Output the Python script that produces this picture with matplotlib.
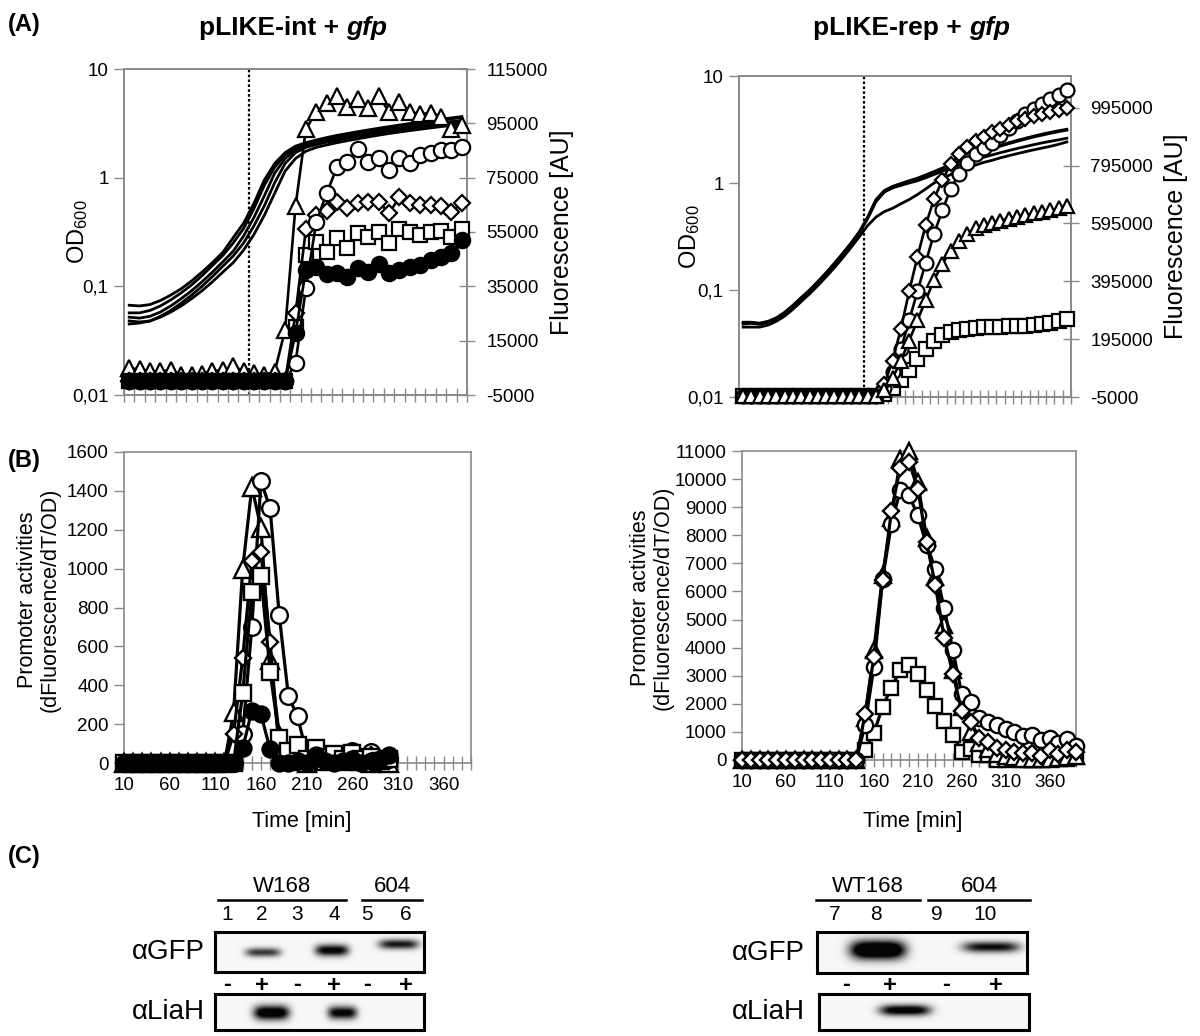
import numpy as np
import matplotlib
matplotlib.use('Agg')
import matplotlib.pyplot as plt
from matplotlib.ticker import NullLocator

plt.rcParams['font.family'] = ['Liberation Sans', 'DejaVu Sans']
plt.rcParams['mathtext.fontset'] = 'custom'
plt.rcParams['mathtext.rm'] = 'Liberation Sans'

# ---------------- DATA ----------------
# Panel A left (pLIKE-int + gfp): 33 time points, OD600 (5 cultures) and fluorescence
TL_OD1 = [0.067,0.066,0.068,0.074,0.083,0.095,0.112,0.135,0.165,0.205,0.28,0.38,0.58,0.95,1.35,1.70,1.95,2.10,2.22,2.34,2.45,2.55,2.65,2.75,2.85,2.95,3.05,3.15,3.25,3.35,3.45,3.55,3.65]
TL_OD2 = [0.057,0.057,0.060,0.066,0.075,0.087,0.103,0.125,0.155,0.192,0.25,0.34,0.52,0.85,1.25,1.62,1.88,2.05,2.17,2.28,2.38,2.48,2.58,2.68,2.78,2.88,2.98,3.08,3.18,3.28,3.38,3.48,3.58]
TL_OD3 = [0.052,0.051,0.053,0.058,0.066,0.077,0.091,0.110,0.135,0.168,0.21,0.29,0.43,0.68,1.10,1.50,1.80,1.98,2.10,2.20,2.30,2.39,2.48,2.57,2.66,2.75,2.84,2.93,3.02,3.11,3.20,3.28,3.36]
TL_OD4 = [0.048,0.047,0.048,0.053,0.060,0.070,0.083,0.100,0.123,0.153,0.19,0.25,0.36,0.55,0.90,1.35,1.70,1.90,2.02,2.12,2.21,2.30,2.39,2.48,2.57,2.66,2.75,2.84,2.93,3.01,3.09,3.16,3.22]
TL_OD5 = [0.045,0.046,0.048,0.052,0.058,0.066,0.077,0.091,0.110,0.135,0.165,0.215,0.30,0.45,0.72,1.15,1.50,1.75,1.90,2.00,2.10,2.19,2.28,2.37,2.46,2.55,2.63,2.71,2.79,2.87,2.95,3.02,3.08]
TL_TRI = [4800,4500,3700,3700,4200,2300,2300,2900,3700,4200,5500,3900,3200,2300,3600,19000,64500,92800,99300,102400,105000,101000,103800,100500,105000,99300,103000,99300,98300,98900,97500,92800,94400]
TL_CIR = [0,0,0,0,0,0,0,0,0,0,0,0,0,0,0,0,6700,34300,58800,69200,79000,80900,85400,80900,82100,77800,82100,80500,83300,84000,85200,85200,86200]
TL_DIA = [0,0,0,0,0,0,0,0,0,0,0,0,0,0,0,0,25000,56000,61300,62900,66200,63700,65500,66200,66200,61900,67800,65500,64900,64900,64600,62500,65500]
TL_SQ  = [0,0,0,0,0,0,0,0,0,0,0,0,0,0,0,0,20000,46500,51400,47800,52700,49000,54500,53300,55100,50800,56000,54900,53900,54900,55500,53300,56000]
TL_BLK = [0,0,0,0,0,0,0,0,0,0,0,0,0,0,0,0,17700,41000,42200,39500,39800,38600,41600,40400,43200,39800,41000,42200,42800,44700,45900,47400,52000]
TL_FL_TICKS = [-5000, 15000, 35000, 55000, 75000, 95000, 115000]

# Panel A right (pLIKE-rep + gfp): 40 time points
TR_OD1 = [0.050,0.050,0.049,0.051,0.055,0.062,0.072,0.085,0.100,0.120,0.145,0.178,0.220,0.275,0.350,0.480,0.700,0.850,0.930,0.990,1.050,1.110,1.190,1.280,1.380,1.490,1.610,1.740,1.870,2.000,2.120,2.250,2.380,2.500,2.620,2.740,2.860,2.970,3.080,3.180]
TR_OD2 = [0.048,0.049,0.048,0.050,0.054,0.060,0.070,0.083,0.098,0.118,0.143,0.175,0.216,0.270,0.345,0.465,0.670,0.820,0.910,0.970,1.030,1.090,1.170,1.260,1.360,1.470,1.590,1.710,1.840,1.960,2.080,2.210,2.330,2.450,2.570,2.690,2.800,2.910,3.020,3.120]
TR_OD3 = [0.049,0.049,0.048,0.050,0.054,0.061,0.071,0.084,0.099,0.119,0.144,0.176,0.218,0.272,0.347,0.470,0.680,0.830,0.900,0.950,1.000,1.050,1.120,1.200,1.290,1.380,1.470,1.560,1.650,1.740,1.830,1.920,2.010,2.100,2.190,2.280,2.370,2.450,2.530,2.620]
TR_OD4 = [0.045,0.045,0.045,0.047,0.051,0.057,0.066,0.078,0.092,0.110,0.133,0.162,0.200,0.250,0.315,0.400,0.480,0.540,0.580,0.640,0.700,0.780,0.880,1.000,1.100,1.200,1.290,1.380,1.470,1.560,1.630,1.720,1.800,1.880,1.960,2.040,2.120,2.200,2.300,2.420]
TR_DIA = [0,0,0,0,0,0,0,0,0,0,0,0,0,0,0,0,0,40000,120000,230000,360000,480000,590000,680000,745000,800000,835000,860000,880000,895000,910000,922000,935000,948000,957000,965000,972000,980000,988000,995000]
TR_CIR = [0,0,0,0,0,0,0,0,0,0,0,0,0,0,0,0,0,25000,80000,160000,260000,360000,460000,560000,640000,715000,765000,805000,835000,855000,875000,900000,925000,950000,972000,992000,1008000,1025000,1040000,1058000]
TR_TRI = [0,0,0,0,0,0,0,0,0,0,0,0,0,0,0,0,0,20000,60000,120000,190000,260000,330000,400000,455000,500000,535000,560000,578000,590000,598000,605000,612000,618000,624000,630000,636000,641000,647000,655000]
TR_SQ  = [0,0,0,0,0,0,0,0,0,0,0,0,0,0,0,0,0,5000,25000,55000,90000,125000,160000,190000,208000,220000,227000,231000,234000,236000,237000,238000,239000,240000,242000,244000,247000,251000,257000,265000]
TR_FL_TICKS = [-5000, 195000, 395000, 595000, 795000, 995000]

# Panel B left: promoter activities, time 10..300 min
BL_TIME = [10,20,30,40,50,60,70,80,90,100,110,120,130,140,150,160,170,180,190,200,210,220,230,240,250,260,270,280,290,300]
BL_TRI = [0,0,0,0,0,0,0,0,0,0,0,0,260,1000,1420,1210,530,145,30,10,0,20,10,30,10,20,10,0,10,0]
BL_CIR = [0,0,0,0,0,0,0,0,0,0,0,0,0,150,700,1450,1310,760,345,240,50,30,20,10,30,60,30,55,20,20]
BL_DIA = [0,0,0,0,0,0,0,0,0,0,0,0,150,540,1040,1085,625,60,20,30,10,40,20,30,20,50,20,40,10,10]
BL_SQ  = [0,0,0,0,0,0,0,0,0,0,0,0,0,360,880,960,470,130,60,95,20,75,30,45,20,50,20,30,10,20]
BL_BLK = [0,0,0,0,0,0,0,0,0,0,0,0,0,75,270,250,70,0,0,10,0,40,10,0,10,20,0,10,20,40]

# Panel B right: time 10..390 min
BR_TIME = [10,20,30,40,50,60,70,80,90,100,110,120,130,140,150,160,170,180,190,200,210,220,230,240,250,260,270,280,290,300,310,320,330,340,350,360,370,380,390]
BR_DIA = [0,0,0,0,0,0,0,0,0,0,0,0,0,0,1640,3650,6420,8870,10400,10600,9660,7760,6220,4360,3060,1750,1360,800,650,420,360,300,250,250,150,350,200,350,280]
BR_CIR = [0,0,0,0,0,0,0,0,0,0,0,0,0,0,1250,3300,6460,8400,9600,9420,8710,7650,6800,5400,3900,2350,2050,1500,1350,1250,1100,1000,850,900,700,800,600,750,500]
BR_TRI = [0,0,0,0,0,0,0,0,0,0,0,0,0,0,1500,3900,6600,8600,10700,11000,9900,7900,6500,4800,3200,1900,1000,600,400,200,150,100,50,30,20,50,80,100,150]
BR_SQ  = [0,0,0,0,0,0,0,0,0,0,0,0,0,0,360,950,1900,2580,3200,3380,3060,2490,1920,1400,890,300,380,180,180,0,0,50,0,0,0,50,30,50,100]

X_LABEL_TIMES = [10, 60, 110, 160, 210, 260, 310, 360]

# Panel C: western blot bands (relative x centre, width, relative y centre, height, intensity)
LEFT_GFP_CX = [0.23, 0.56, 0.88]; LEFT_GFP_W = [0.17, 0.16, 0.19]; LEFT_GFP_CY = [0.52, 0.47, 0.32]; LEFT_GFP_H = [0.11, 0.14, 0.12]; LEFT_GFP_I = [0.8, 1.1, 0.95]
LEFT_LIAH_CX = [0.27, 0.61]; LEFT_LIAH_W = [0.17, 0.14]; LEFT_LIAH_CY = [0.52, 0.52]; LEFT_LIAH_H = [0.2, 0.18]; LEFT_LIAH_I = [1.3, 1.1]
RIGHT_GFP_CX = [0.29, 0.83]; RIGHT_GFP_W = [0.26, 0.27]; RIGHT_GFP_CY = [0.45, 0.38]; RIGHT_GFP_H = [0.22, 0.13]; RIGHT_GFP_I = [1.6, 1.0]
RIGHT_LIAH_CX = [0.41]; RIGHT_LIAH_W = [0.24]; RIGHT_LIAH_CY = [0.45]; RIGHT_LIAH_H = [0.15]; RIGHT_LIAH_I = [1.2]
LEFT_LANES = ['1', '2', '3', '4', '5', '6']
LEFT_SIGNS = ['-', '+', '-', '+', '-', '+']
RIGHT_LANES = ['7', '8', '9', '10']
RIGHT_SIGNS = ['-', '+', '-', '+']

# ---------------- FIGURE ----------------
W, H = 1200, 1036
fig = plt.figure(figsize=(W / 100, H / 100), dpi=100)
GRAY = '#8a8a8a'
TFS = 13.5


def rect(l, t, r, b):
    return [l / W, 1 - b / H, (r - l) / W, (b - t) / H]


def fx(x):
    return x / W


def fy(y):
    return 1 - y / H


def style_spines(ax):
    for s in ax.spines.values():
        s.set_color(GRAY)
        s.set_linewidth(1.2)


def top_panel(rc, ods, series, n, dotted, flim, fticks, od_x, fl_x):
    ax = fig.add_axes(rc)
    x = np.arange(n) + 0.5
    for od in ods:
        ax.plot(x, od, color='black', lw=2.0, zorder=2, solid_joinstyle='round')
    ax.set_yscale('log')
    ax.set_ylim(0.01, 10)
    ax.set_xlim(0, n)
    ax.axvline(dotted, color='black', ls=(0, (1.2, 1.0)), lw=1.6, zorder=1)
    ax.set_yticks([0.01, 0.1, 1, 10])
    ax.set_yticklabels(['0,01', '0,1', '1', '10'])
    ax.yaxis.set_minor_locator(NullLocator())
    ax.set_xticks(np.arange(0, n + 1))
    ax.set_xticklabels([])
    ax.tick_params(axis='x', direction='inout', length=10, width=1.0, color=GRAY)
    ax.tick_params(axis='y', direction='out', length=7, width=1.0, color=GRAY, labelsize=TFS, pad=4)
    style_spines(ax)
    ax2 = ax.twinx()
    for vals, mk, face, ms in series:
        ax2.plot(x, vals, color='black', lw=1.9, marker=mk, ms=ms, mfc=face, mec='black',
                 mew=1.6, clip_on=False, zorder=3)
    ax2.set_ylim(*flim)
    ax2.set_yticks(fticks)
    ax2.set_yticklabels([str(v) for v in fticks])
    ax2.tick_params(axis='y', direction='inout', length=12, width=1.0, color=GRAY, labelsize=TFS, pad=8)
    ax2.set_xlim(0, n)
    style_spines(ax2)
    yc = (1 - (rc[1] + rc[3] / 2)) * H
    fig.text(fx(od_x), fy(yc), r'$\mathregular{OD_{600}}$', rotation=90, ha='center', va='center', fontsize=17)
    fig.text(fx(fl_x), fy(yc), 'Fluorescence [AU]', rotation=90, ha='center', va='center', fontsize=18)
    return ax, ax2


n_tl = len(TL_TRI)
top_panel(rect(124, 69, 467, 395), [TL_OD1, TL_OD2, TL_OD3, TL_OD4, TL_OD5],
          [(TL_TRI, '^', 'white', 12), (TL_SQ, 's', 'white', 10.5), (TL_DIA, 'D', 'white', 8.5),
           (TL_CIR, 'o', 'white', 11), (TL_BLK, 'o', 'black', 11)],
          n_tl, 12, (-5000, 115000), TL_FL_TICKS, 78, 562)

n_tr = len(TR_TRI)
top_panel(rect(739, 76, 1071, 397), [TR_OD1, TR_OD2, TR_OD3, TR_OD4],
          [(TR_SQ, 's', 'white', 9.5), (TR_CIR, 'o', 'white', 10), (TR_DIA, 'D', 'white', 7.5),
           (TR_TRI, '^', 'white', 10)],
          n_tr, 15, (-5000, 1105000), TR_FL_TICKS, 690, 1176)


def b_panel(rc, time, series, ymax, ystep, lab_x):
    ax = fig.add_axes(rc)
    for vals, mk, face, ms in series:
        ax.plot(time, vals, color='black', lw=2.3, marker=mk, ms=ms, mfc=face, mec='black',
                mew=1.7, clip_on=False, zorder=3)
    ax.set_xlim(10, 390)
    ax.set_ylim(0, ymax)
    ticks = np.arange(10, 391, 10)
    ax.set_xticks(ticks)
    ax.set_xticklabels([str(t) if t in X_LABEL_TIMES else '' for t in ticks])
    ax.set_yticks(np.arange(0, ymax + 1, ystep))
    ax.tick_params(axis='x', direction='inout', length=10, width=1.0, color=GRAY, labelsize=TFS, pad=5)
    ax.tick_params(axis='y', direction='out', length=7, width=1.0, color=GRAY, labelsize=TFS, pad=4)
    style_spines(ax)
    top = (1 - rc[1] - rc[3]) * H
    bot = (1 - rc[1]) * H
    left = rc[0] * W
    right = (rc[0] + rc[2]) * W
    fig.text(fx(lab_x), fy((top + bot) / 2 - 8), 'Promoter activities\n(dFluorescence/dT/OD)', rotation=90,
             ha='center', va='center', fontsize=15.5, linespacing=1.1, multialignment='center')
    fig.text(fx((left + right) / 2 + 4), fy(821), 'Time [min]', ha='center', va='center', fontsize=15.5)
    return ax


b_panel(rect(124, 452, 471, 763), BL_TIME,
        [(BL_TRI, '^', 'white', 12.5), (BL_CIR, 'o', 'white', 12), (BL_DIA, 'D', 'white', 8.5),
         (BL_SQ, 's', 'white', 11), (BL_BLK, 'o', 'black', 11.5)],
        1600, 200, 39)
b_panel(rect(742, 451, 1076, 760), BR_TIME,
        [(BR_SQ, 's', 'white', 10.5), (BR_TRI, '^', 'white', 11), (BR_CIR, 'o', 'white', 11),
         (BR_DIA, 'D', 'white', 8)],
        11000, 1000, 652)

# ---------------- titles & panel letters ----------------
renderer = fig.canvas.get_renderer()


def title2(xc, y, a, b, size=19):
    t1 = fig.text(0, fy(y), a, fontsize=size, fontweight='bold', ha='left', va='center')
    t2 = fig.text(0, fy(y), b, fontsize=size, fontweight='bold', fontstyle='italic', ha='left', va='center')
    w1 = t1.get_window_extent(renderer).width
    w2 = t2.get_window_extent(renderer).width
    gap = 0.28 * size * 100 / 72
    x0 = xc - (w1 + gap + w2) / 2
    t1.set_x(fx(x0))
    t2.set_x(fx(x0 + w1 + gap))


title2(293, 28, 'pLIKE-int +', 'gfp')
title2(912, 28, 'pLIKE-rep +', 'gfp')
for lab, yy in [('(A)', 24), ('(B)', 461), ('(C)', 857)]:
    fig.text(fx(8), fy(yy), lab, fontsize=17, fontweight='bold', ha='left', va='center')


# ---------------- Panel C blots ----------------
def blot(l, t, r, b, cx, w, cy, h, inten):
    ax = fig.add_axes(rect(l, t, r, b))
    nx, ny = 420, 90
    X, Y = np.meshgrid(np.linspace(0, 1, nx), np.linspace(0, 1, ny))
    img = np.zeros((ny, nx))
    for c, ww, yy, hh, ii in zip(cx, w, cy, h, inten):
        img += ii * np.exp(-np.abs((X - c) / (ww / 2)) ** 4) * np.exp(-((Y - yy) / hh) ** 2)
    img = np.clip(img, 0, 1)
    ax.imshow(0.97 - 0.95 * img, cmap='gray', vmin=0, vmax=1, extent=(0, 1, 1, 0),
              aspect='auto', interpolation='bilinear')
    ax.set_xlim(0, 1)
    ax.set_ylim(1, 0)
    ax.set_xticks([])
    ax.set_yticks([])
    for s in ax.spines.values():
        s.set_color('black')
        s.set_linewidth(2.2)
    return ax


blot(215, 932, 424, 972, LEFT_GFP_CX, LEFT_GFP_W, LEFT_GFP_CY, LEFT_GFP_H, LEFT_GFP_I)
blot(215, 994, 424, 1030, LEFT_LIAH_CX, LEFT_LIAH_W, LEFT_LIAH_CY, LEFT_LIAH_H, LEFT_LIAH_I)
blot(817, 932, 1027, 973, RIGHT_GFP_CX, RIGHT_GFP_W, RIGHT_GFP_CY, RIGHT_GFP_H, RIGHT_GFP_I)
blot(819, 994, 1029, 1030, RIGHT_LIAH_CX, RIGHT_LIAH_W, RIGHT_LIAH_CY, RIGHT_LIAH_H, RIGHT_LIAH_I)

fig.text(fx(168), fy(952), 'αGFP', fontsize=20, ha='center', va='center')
fig.text(fx(168), fy(1012), 'αLiaH', fontsize=20, ha='center', va='center')
fig.text(fx(768), fy(953), 'αGFP', fontsize=20, ha='center', va='center')
fig.text(fx(768), fy(1012), 'αLiaH', fontsize=20, ha='center', va='center')

left_lane_x = [227, 262, 297, 334, 367, 406]
for lx, lab, sg in zip(left_lane_x, LEFT_LANES, LEFT_SIGNS):
    fig.text(fx(lx), fy(914), lab, fontsize=15, ha='center', va='center')
    fig.text(fx(lx), fy(985), sg, fontsize=17, fontweight='bold', ha='center', va='center')
right_lane_x = [835, 876, 937, 985]
right_sign_x = [846, 890, 946, 996]
for lx, sx, lab, sg in zip(right_lane_x, right_sign_x, RIGHT_LANES, RIGHT_SIGNS):
    fig.text(fx(lx), fy(914), lab, fontsize=15, ha='center', va='center')
    fig.text(fx(sx), fy(985), sg, fontsize=17, fontweight='bold', ha='center', va='center')

for label, x1, x2 in [('W168', 218, 346), ('604', 362, 422), ('WT168', 816, 920), ('604', 928, 1030)]:
    fig.text(fx((x1 + x2) / 2), fy(887), label, fontsize=16, ha='center', va='center')
    fig.add_artist(plt.Line2D([fx(x1), fx(x2)], [fy(900), fy(900)], color='black', lw=1.8))

fig.savefig('out.png', dpi=100)
